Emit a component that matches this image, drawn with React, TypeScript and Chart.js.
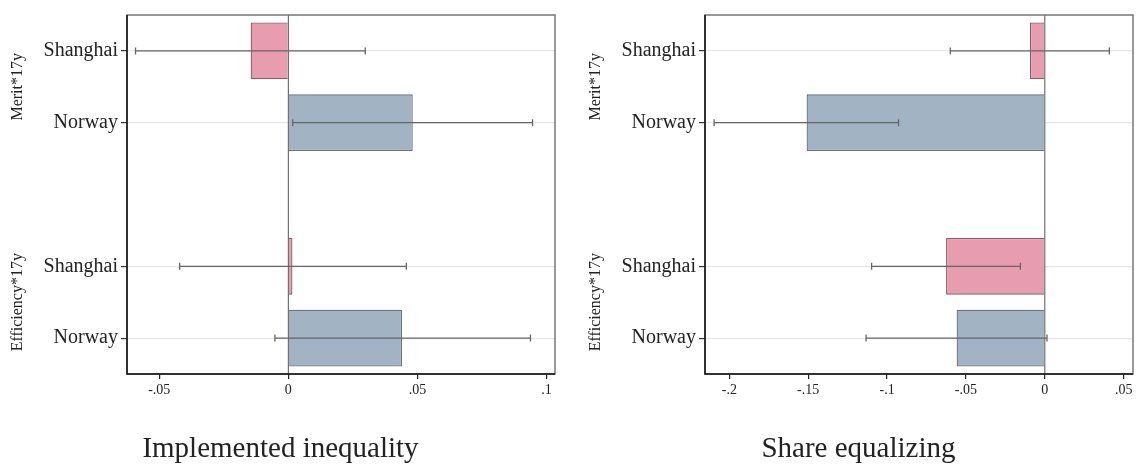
import React, { useEffect, useRef } from "react";
import { Chart, registerables } from "chart.js";

Chart.register(...registerables);

// ---------- data ----------
const categories = ["Shanghai", "Norway", "", "Shanghai", "Norway"];
const groupLabels = ["Merit*17y", "Efficiency*17y"];
const groupRows = [
  [0, 1],
  [3, 4],
];

const implementedEst = [-0.0146, 0.0482, null, 0.0016, 0.0441];
const implementedLo = [-0.0592, 0.0017, null, -0.0421, -0.0052];
const implementedHi = [0.0298, 0.0946, null, 0.0457, 0.0938];
const implementedTicks = [-0.05, 0, 0.05, 0.1];
const implementedTickLabels = ["-.05", "0", ".05", ".1"];
const implementedRange = [-0.0625, 0.1033];

const shareEst = [-0.0094, -0.151, null, -0.0626, -0.0559];
const shareLo = [-0.0599, -0.2096, null, -0.1098, -0.1133];
const shareHi = [0.0409, -0.0927, null, -0.0155, 0.0014];
const shareTicks = [-0.2, -0.15, -0.1, -0.05, 0, 0.05];
const shareTickLabels = ["-.2", "-.15", "-.1", "-.05", "0", ".05"];
const shareRange = [-0.2154, 0.0559];

// ---------- styles ----------
const FONT = "'Liberation Serif', 'Times New Roman', Times, serif";
const colorFor = (cat: string) =>
  cat === "Shanghai" ? "#e79caf" : cat === "Norway" ? "#a2b3c4" : "transparent";
const borderFor = (cat: string) =>
  cat === "Shanghai" ? "#846068" : cat === "Norway" ? "#6a727c" : "transparent";

type PanelProps = {
  title: string;
  est: (number | null)[];
  lo: (number | null)[];
  hi: (number | null)[];
  ticks: number[];
  tickLabels: string[];
  range: number[];
  yWidth: number;
  padRight: number;
};

function Panel(p: PanelProps) {
  const ref = useRef<HTMLCanvasElement | null>(null);

  useEffect(() => {
    if (!ref.current) return;

    const decor = {
      id: "decor",
      afterDatasetsDraw(chart: any) {
        const { ctx, chartArea: a, scales } = chart;
        const x = scales.x;
        const y = scales.y;
        ctx.save();
        // zero line
        const x0 = x.getPixelForValue(0);
        ctx.strokeStyle = "#555";
        ctx.lineWidth = 1;
        ctx.beginPath();
        ctx.moveTo(x0, a.top);
        ctx.lineTo(x0, a.bottom);
        ctx.stroke();
        // error bars
        ctx.strokeStyle = "#666";
        ctx.lineWidth = 1.3;
        p.lo.forEach((l, i) => {
          const h = p.hi[i];
          if (l == null || h == null) return;
          const py = y.getPixelForValue(i);
          const pl = x.getPixelForValue(l);
          const ph = x.getPixelForValue(h);
          ctx.beginPath();
          ctx.moveTo(pl, py);
          ctx.lineTo(ph, py);
          ctx.moveTo(pl, py - 3.5);
          ctx.lineTo(pl, py + 3.5);
          ctx.moveTo(ph, py - 3.5);
          ctx.lineTo(ph, py + 3.5);
          ctx.stroke();
        });
        // frame
        ctx.strokeStyle = "#777";
        ctx.lineWidth = 1.5;
        ctx.strokeRect(a.left, a.top, a.right - a.left, a.bottom - a.top);
        ctx.strokeStyle = "#111";
        ctx.beginPath();
        ctx.moveTo(a.left, a.top);
        ctx.lineTo(a.left, a.bottom);
        ctx.lineTo(a.right, a.bottom);
        ctx.stroke();
        ctx.restore();
      },
      afterDraw(chart: any) {
        const { ctx, chartArea: a, scales } = chart;
        const y = scales.y;
        ctx.save();
        ctx.fillStyle = "#222";
        // group labels
        ctx.font = `16px ${FONT}`;
        ctx.textAlign = "center";
        ctx.textBaseline = "middle";
        groupLabels.forEach((g, gi) => {
          const rows = groupRows[gi];
          const cy =
            (y.getPixelForValue(rows[0]) + y.getPixelForValue(rows[rows.length - 1])) / 2;
          ctx.save();
          ctx.translate(a.left - 109, cy);
          ctx.rotate(-Math.PI / 2);
          ctx.fillText(g, 0, 0);
          ctx.restore();
        });
        // panel title
        ctx.font = `29px ${FONT}`;
        ctx.textAlign = "center";
        ctx.textBaseline = "alphabetic";
        ctx.fillText(p.title, (a.left + a.right) / 2 - 60.5, 456.5);
        ctx.restore();
      },
    };

    const chart = new Chart(ref.current, {
      type: "bar",
      data: {
        labels: categories,
        datasets: [
          {
            data: p.est as any,
            backgroundColor: categories.map(colorFor),
            borderColor: categories.map(borderFor),
            borderWidth: 1.3,
            categoryPercentage: 1,
            barPercentage: 0.79,
          },
        ],
      },
      options: {
        indexAxis: "y",
        animation: false,
        responsive: false,
        layout: { padding: { top: 12, left: 0, right: p.padRight, bottom: 0 } },
        plugins: {
          legend: { display: false },
          tooltip: { enabled: false },
          title: { display: false },
        },
        scales: {
          x: {
            type: "linear",
            min: p.range[0],
            max: p.range[1],
            afterBuildTicks: (scale: any) => {
              scale.ticks = p.ticks.map((v) => ({ value: v }));
            },
            afterFit: (scale: any) => {
              scale.height = 91;
            },
            border: { display: false },
            grid: {
              drawOnChartArea: false,
              drawTicks: true,
              tickLength: 5,
              tickColor: "#222",
              lineWidth: 1.2,
            },
            ticks: {
              autoSkip: false,
              maxRotation: 0,
              padding: 3,
              color: "#222",
              font: { family: FONT, size: 14 },
              callback: (_v: any, i: number) => p.tickLabels[i],
            },
          },
          y: {
            type: "category",
            offset: true,
            afterFit: (scale: any) => {
              scale.width = p.yWidth;
            },
            border: { display: false },
            grid: {
              offset: false,
              drawOnChartArea: true,
              drawTicks: true,
              tickLength: 6,
              color: (c: any) => (categories[c.index] ? "#e6e6e6" : "transparent"),
              tickColor: (c: any) => (categories[c.index] ? "#333" : "transparent"),
              lineWidth: 1.2,
            },
            ticks: {
              autoSkip: false,
              padding: 3,
              color: "#222",
              font: { family: FONT, size: 20 },
            },
          },
        },
      },
      plugins: [decor],
    } as any);

    return () => chart.destroy();
  }, []);

  return (
    <canvas
      ref={ref}
      width={568}
      height={465}
      style={{ display: "block", width: 568, height: 465 }}
    />
  );
}

export default function App() {
  return (
    <div
      style={{
        position: "absolute",
        left: 0,
        top: 0,
        width: 1136,
        height: 465,
        display: "flex",
        background: "#fff",
      }}
    >
      <Panel
        title="Implemented inequality"
        est={implementedEst}
        lo={implementedLo}
        hi={implementedHi}
        ticks={implementedTicks}
        tickLabels={implementedTickLabels}
        range={implementedRange}
        yWidth={127}
        padRight={13}
      />
      <Panel
        title="Share equalizing"
        est={shareEst}
        lo={shareLo}
        hi={shareHi}
        ticks={shareTicks}
        tickLabels={shareTickLabels}
        range={shareRange}
        yWidth={137}
        padRight={3}
      />
    </div>
  );
}
